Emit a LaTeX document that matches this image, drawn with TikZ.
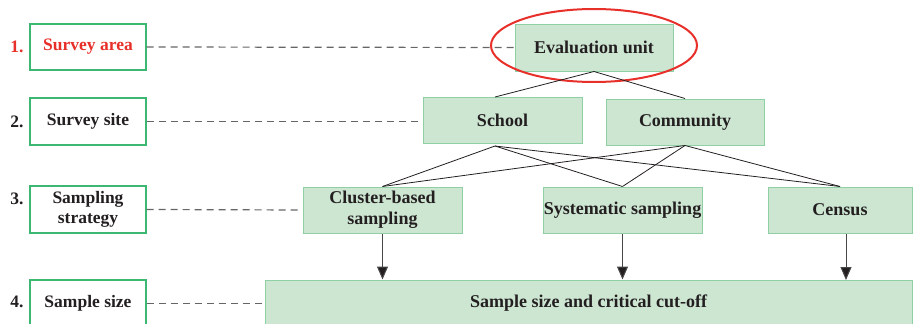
\documentclass[tikz,border=0pt]{standalone}
\usepackage{fontspec}
\setmainfont{Liberation Serif}
\usetikzlibrary{arrows.meta}
\definecolor{boxfill}{HTML}{CDE6D2}
\definecolor{boxline}{HTML}{8ED0A4}
\definecolor{leftline}{HTML}{3DB872}
\definecolor{redc}{HTML}{E8302A}
\definecolor{txt}{HTML}{231F20}
\definecolor{dashc}{HTML}{666666}
\tikzset{
  greenbox/.style={draw=boxline, fill=boxfill, line width=1pt, inner sep=0pt, align=center, text=txt, font=\fontsize{18}{21}\selectfont\bfseries},
  leftbox/.style={draw=leftline, fill=white, line width=1.2pt, inner sep=0pt, minimum width=116pt, align=center, text=txt, font=\fontsize{17.5}{20.5}\selectfont\bfseries},
  numlab/.style={inner sep=0pt, text=txt, font=\fontsize{17.5}{20}\selectfont\bfseries},
  guide/.style={draw=dashc, line width=1.2pt, dash pattern=on 7pt off 5pt},
  link/.style={draw=txt, line width=0.8pt},
  down/.style={draw=dashc!70!black, line width=1pt, -{Triangle[length=13pt,width=11pt,fill=txt]}}
}
\begin{document}
\begin{tikzpicture}[x=1pt,y=-1pt]
\useasboundingbox (0,0) rectangle (914,324);
% left column
\node[leftbox, minimum height=46pt, text=redc] (l1) at (88,47) {Survey area};
\node[leftbox, minimum height=47pt] (l2) at (88,121.5) {Survey site};
\node[leftbox, minimum height=47pt] (l3) at (88,209.5) {Sampling\\strategy};
\node[leftbox, minimum height=47pt] (l4) at (88,303.5) {Sample size};
\node[numlab, text=redc] (n1) at (17,47) {1.};
\node[numlab] (n2) at (17,121.5) {2.};
\node[numlab] (n3) at (17,199) {3.};
\node[numlab] (n4) at (17,302) {4.};
% right structure
\node[greenbox, minimum width=158pt, minimum height=47pt] (eu) at (594,47.5) {Evaluation unit};
\node[greenbox, minimum width=159pt, minimum height=46pt] (sch) at (502.5,120) {School};
\node[greenbox, minimum width=158pt, minimum height=46pt] (com) at (685,122) {Community};
\node[greenbox, minimum width=159pt, minimum height=46pt] (clu) at (382.5,210) {Cluster-based\\sampling};
\node[greenbox, minimum width=159pt, minimum height=46pt] (sys) at (622.5,210) {Systematic sampling};
\node[greenbox, minimum width=144pt, minimum height=46pt] (cen) at (840,210) {Census};
\node[greenbox, minimum width=647pt, minimum height=47pt] (ss) at (588.5,303.5) {Sample size and critical cut-off};
% ellipse
\draw[redc, line width=2pt] (594,45.5) ellipse [x radius=103, y radius=36.5];
% guides
\draw[guide] (l1.east) -- (eu.west);
\draw[guide] (l2.east) -- (sch.west |- l2.east);
\draw[guide] (l3.east) -- (clu.west);
\draw[guide] (l4.east) -- (ss.west);
% links
\coordinate (sb) at (495,146);
\draw[link] (eu.south) -- (495,97);
\draw[link] (eu.south) -- (com.north);
\draw[link] (sb) -- (clu.north);
\draw[link] (sb) -- (sys.north);
\draw[link] (sb) -- (cen.north);
\draw[link] (com.south) -- (clu.north);
\draw[link] (com.south) -- (sys.north);
\draw[link] (com.south) -- (cen.north);
% arrows
\draw[down] (clu.south) -- (clu.south |- ss.north);
\draw[down] (sys.south) -- (sys.south |- ss.north);
\draw[down] (cen.south -| 846,0) -- (846,280);
\end{tikzpicture}
\end{document}
